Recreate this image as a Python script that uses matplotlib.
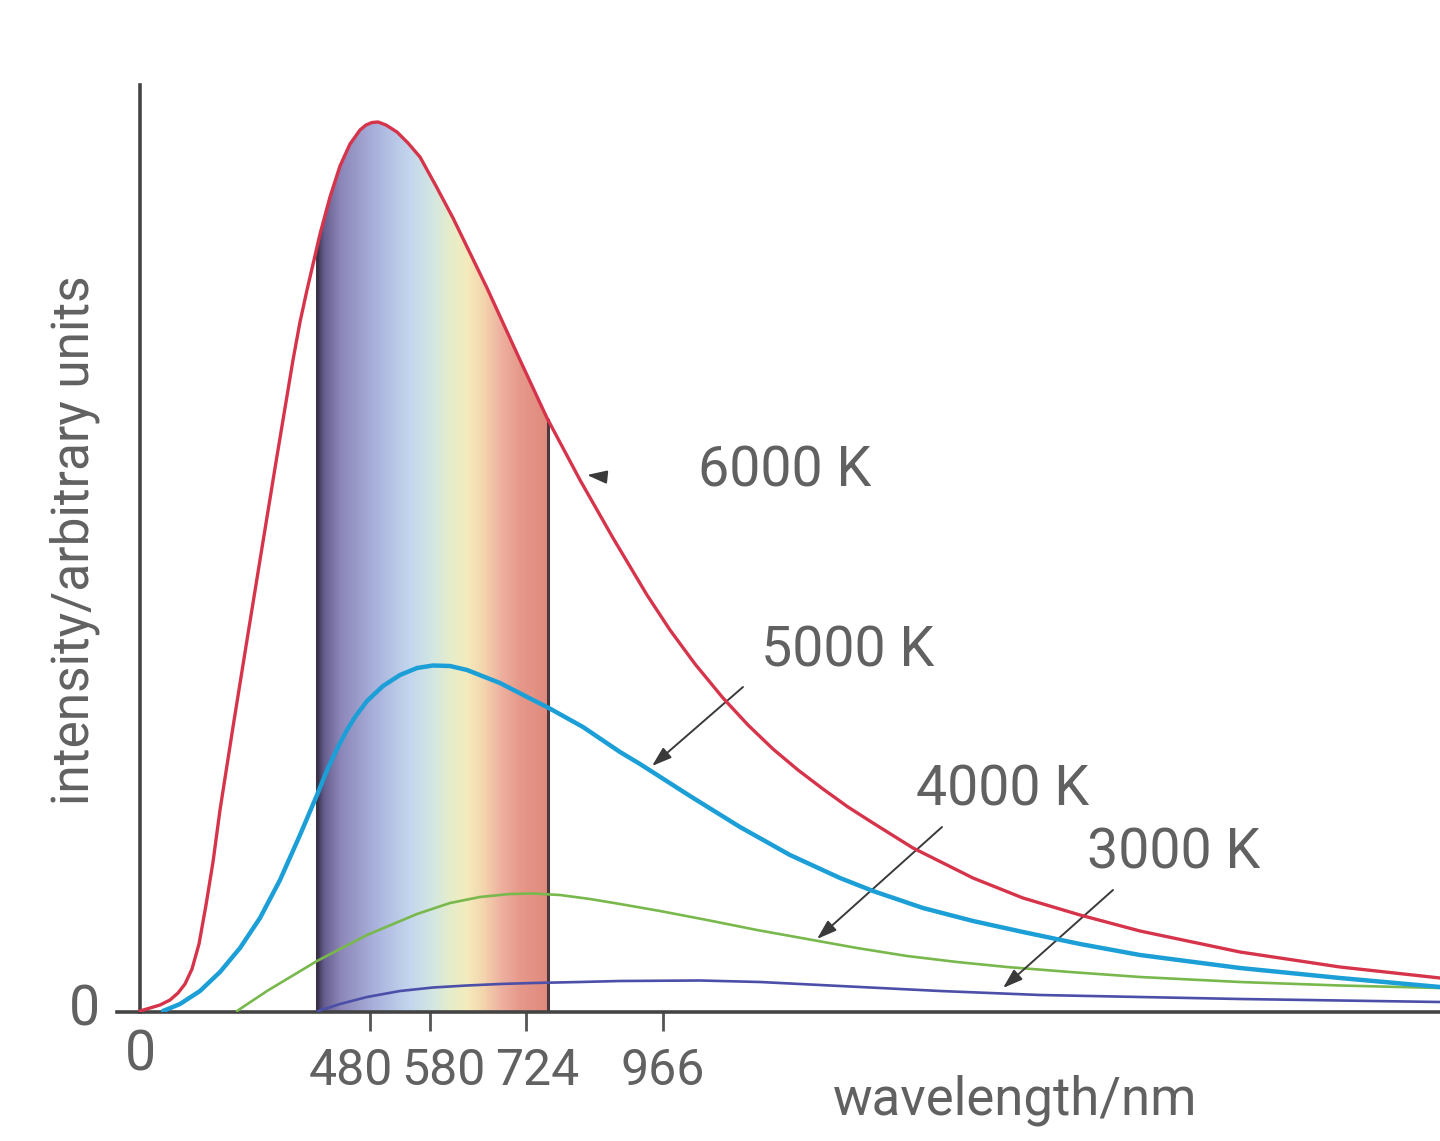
import numpy as np
import matplotlib.pyplot as plt
from matplotlib.colors import LinearSegmentedColormap
from matplotlib.patches import Polygon

# wavelength (drawing units, ~nm) and intensity (arbitrary units)
wl_6000 = [0, 40, 60, 76, 90, 104, 118, 132, 146, 160, 186, 214, 240, 272, 306, 320, 334, 348,
           360, 380, 400, 420, 440, 452, 464, 476, 492, 514, 536, 560, 592, 626, 694, 760, 814,
           880, 946, 1014, 1060, 1110, 1166, 1216, 1266, 1316, 1366, 1416, 1466, 1546, 1666,
           1766, 1880, 2000, 2200, 2400, 2600]
i_6000 = [0.1, 0.7, 1.2, 1.9, 2.8, 4.3, 6.8, 10.7, 15.0, 20.2, 28.5, 37.2, 45.2, 55.0, 65.2,
          69.0, 72.2, 75.2, 77.8, 81.5, 84.6, 86.8, 88.2, 88.7, 88.95, 89.0, 88.7, 88.0, 86.9,
          85.5, 82.6, 79.4, 72.4, 65.2, 59.4, 53.2, 47.4, 41.7, 38.2, 34.8, 31.4, 28.7, 26.3,
          24.2, 22.3, 20.5, 18.9, 16.4, 13.4, 11.4, 9.7, 8.1, 6.0, 4.5, 3.4]

wl_5000 = [46, 80, 120, 160, 200, 240, 280, 320, 354, 376, 398, 414, 430, 454, 486, 520, 554,
           586, 620, 654, 720, 786, 814, 886, 960, 1000, 1100, 1200, 1300, 1400, 1466, 1566,
           1666, 1766, 1880, 2000, 2200, 2400, 2600]
i_5000 = [0.1, 0.8, 2.1, 4.0, 6.4, 9.4, 13.2, 17.7, 21.7, 24.4, 26.7, 28.2, 29.5, 31.1, 32.6,
          33.7, 34.4, 34.65, 34.6, 34.2, 32.9, 31.2, 30.5, 28.5, 26.0, 24.8, 21.6, 18.5, 15.7,
          13.4, 12.1, 10.4, 9.1, 8.0, 6.8, 5.7, 4.4, 3.4, 2.5]

wl_4000 = [194, 254, 354, 454, 554, 620, 680, 740, 786, 840, 900, 960, 1040, 1134, 1234, 1334,
           1434, 1534, 1634, 1734, 1860, 2000, 2200, 2400, 2600]
i_4000 = [0.1, 2.1, 5.1, 7.7, 9.8, 10.9, 11.5, 11.8, 11.85, 11.7, 11.3, 10.8, 10.1, 9.2, 8.2,
          7.3, 6.4, 5.6, 5.0, 4.5, 4.0, 3.5, 3.0, 2.65, 2.4]

wl_3000 = [356, 400, 454, 520, 586, 654, 720, 786, 880, 960, 1120, 1240, 1400, 1600, 1800,
           2000, 2200, 2400, 2600]
i_3000 = [0.1, 0.8, 1.5, 2.1, 2.45, 2.65, 2.8, 2.9, 3.0, 3.1, 3.15, 3.0, 2.6, 2.1, 1.7, 1.5,
          1.3, 1.15, 1.0]

tick_pos = [460, 580, 772, 1046]
tick_label_x = [422, 606, 794, 1046]
tick_labels = ['480', '580', '724', '966']

# visible band edges
band_lo, band_hi = 354, 816

temps = ['6000 K', '5000 K', '4000 K', '3000 K']
label_xy = [(1290, 54.1), (1416, 36.1), (1726, 22.2), (2068, 15.9)]
arrow_tail = [(932, 53.5), (1206, 32.5), (1604, 18.5), (1946, 12.2)]
arrow_tip = [(894, 53.7), (1024, 24.6), (1354, 7.3), (1726, 2.4)]

plt.rcParams['font.family'] = ['Roboto', 'DejaVu Sans']
txt = '#616161'
axis_col = '#444444'

fig = plt.figure(figsize=(14.4, 11.41), dpi=100)
ax = fig.add_axes([117 / 1440, 129 / 1141, 1 - 117 / 1440, 927 / 1141])

# spectrum band under the 6000 K curve
spec = LinearSegmentedColormap.from_list('spec', [
    (0.0, '#3a3352'), (0.03, '#665e8e'), (0.1, '#8c86b8'), (0.25, '#a9b1dc'),
    (0.4, '#c3d6ee'), (0.5, '#d2e6e2'), (0.58, '#e6edca'), (0.65, '#f3ebbc'),
    (0.72, '#f4d6ae'), (0.8, '#eeb0a0'), (0.88, '#e6998a'), (1.0, '#e08a7e')])
grad = np.linspace(0, 1, 256).reshape(1, -1)
im = ax.imshow(grad, cmap=spec, aspect='auto', extent=[band_lo, band_hi, 0, 92.7],
               interpolation='bicubic', zorder=1)
xs = np.linspace(band_lo, band_hi, 200)
ys = np.interp(xs, wl_6000, i_6000)
clip = Polygon([(band_lo, 0)] + list(zip(xs, ys)) + [(band_hi, 0)], closed=True,
               facecolor='none', edgecolor='none')
ax.add_patch(clip)
im.set_clip_path(clip)
for bx, c in [(band_lo, '#3b3148'), (band_hi, '#4a3a3c')]:
    ax.plot([bx, bx], [0, np.interp(bx, wl_6000, i_6000)], color=c, lw=2.2, zorder=2)

style = dict(solid_joinstyle='round', solid_capstyle='round')
ax.plot(wl_3000, i_3000, color='#4b4fa8', lw=1.9, zorder=3, **style)
ax.plot(wl_4000, i_4000, color='#79b84c', lw=1.9, zorder=3, **style)
ax.plot(wl_5000, i_5000, color='#1c9fd6', lw=3.2, zorder=4, **style)
ax.plot(wl_6000, i_6000, color='#d6344b', lw=2.4, zorder=5, **style)

for t, xy, tail, tip in zip(temps, label_xy, arrow_tail, arrow_tip):
    ax.text(xy[0], xy[1], t, fontsize=40, color=txt, ha='center', va='center')
    ax.annotate('', xy=tip, xytext=tail,
                arrowprops=dict(arrowstyle='-|>,head_length=1.2,head_width=0.4',
                                color='#3a3a3a', lw=1.4, shrinkA=0, shrinkB=0))

ax.set_xlim(-46, 2600)
ax.set_ylim(0, 92.7)
ax.spines['top'].set_visible(False)
ax.spines['right'].set_visible(False)
ax.spines['left'].set_position(('data', 0))
for s in ['left', 'bottom']:
    ax.spines[s].set_color(axis_col)
    ax.spines[s].set_linewidth(2.6)
ax.set_yticks([])
ax.set_xticks(tick_pos)
ax.set_xticklabels([])
ax.tick_params(axis='x', direction='out', length=14, width=2, color='#555555')
for x, lab in zip(tick_label_x, tick_labels):
    ax.text(x, -0.064, lab, transform=ax.get_xaxis_transform(), fontsize=36, color=txt,
            ha='center', va='center')

fig.text(84 / 1440, 1 - 1010 / 1141, '0', fontsize=40, color=txt, ha='center', va='center')
fig.text(140 / 1440, 1 - 1055 / 1141, '0', fontsize=40, color=txt, ha='center', va='center')
fig.text(75 / 1440, 1 - 540 / 1141, 'intensity/arbitrary units', fontsize=37, color=txt,
         rotation=90, ha='center', va='center')
fig.text(1015 / 1440, 1 - 1100 / 1141, 'wavelength/nm', fontsize=38, color=txt,
         ha='center', va='center')

fig.savefig('out.png', dpi=100)
